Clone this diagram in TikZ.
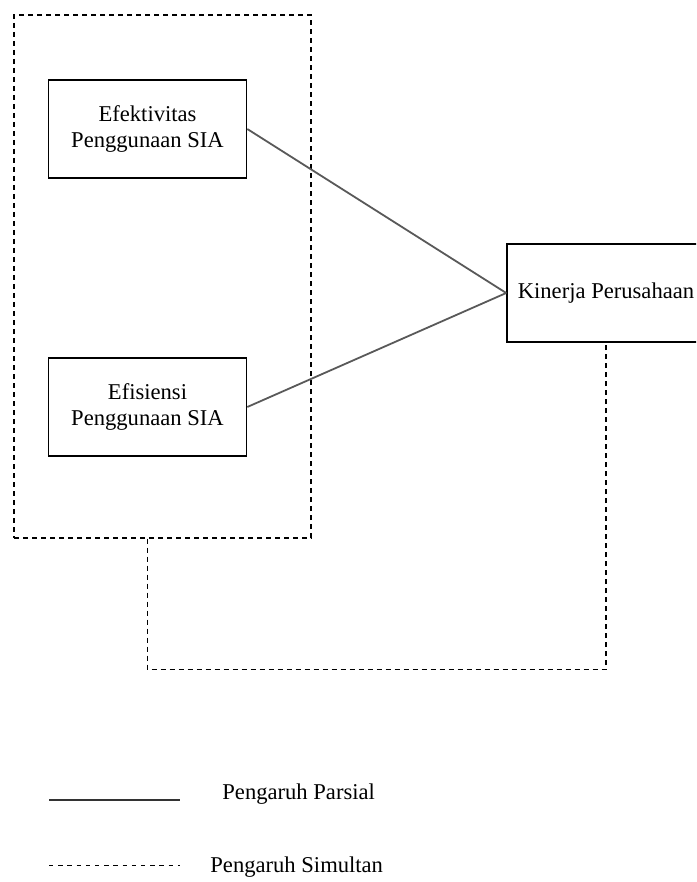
\documentclass[tikz,border=0pt]{standalone}
\usepackage{fontspec}
\setmainfont{Liberation Serif}
\usepackage{tikz}
\usetikzlibrary{positioning}
\tikzset{varbox/.style = {draw, line width = 0.8pt, align = center, inner sep = 0,
    minimum width = 99pt, minimum height = 49pt,
    font = \fontsize{11.3}{13}\selectfont}}
\tikzset{simdash/.style = {line width = 0.7pt, dash pattern = on 2.5pt off 2pt}}
\tikzset{parline/.style = {line width = 0.9pt, black!65}}
\tikzset{legtext/.style = {anchor = west, inner sep = 0, font = \fontsize{11.3}{13}\selectfont}}

\begin{document}
\begin{tikzpicture}[x = 0.5pt, y = -0.5pt]
    \clip (0, 0) rectangle (696, 882);
    % variabel
    \node [simdash, draw, minimum width = 148.5pt, minimum height = 261.5pt, inner sep = 0] (grp) at (162.5, 276.5) {};
    \node [varbox] (eff) at (147.5, 129) {Efektivitas\\Penggunaan SIA};
    \node [varbox] (efi) at (147.5, 407) {Efisiensi\\Penggunaan SIA};
    \node [varbox] (kin) at (606, 293) {Kinerja Perusahaan};
    % pengaruh parsial
    \draw [parline] (eff.east) -- (kin.west);
    \draw [parline] (efi.east) -- (kin.west);
    % pengaruh simultan
    \draw [simdash] (eff |- grp.south) -- ++(0, 131) -| (kin.south);
    % keterangan
    \coordinate (p1) at (49, 800);
    \coordinate (p2) at (180, 800);
    \coordinate (s1) at (49, 865);
    \coordinate (s2) at (180, 865);
    \draw [line width = 0.9pt, black!80] (p1) -- (p2);
    \draw [simdash, line width = 0.5pt, dash pattern = on 2.2pt off 2.4pt] (s1) -- (s2);
    \node [legtext] (parsial) at (222, 794) {Pengaruh Parsial};
    \node [legtext] (simultan) at (210, 867) {Pengaruh Simultan};
  \end{tikzpicture}
\end{document}
